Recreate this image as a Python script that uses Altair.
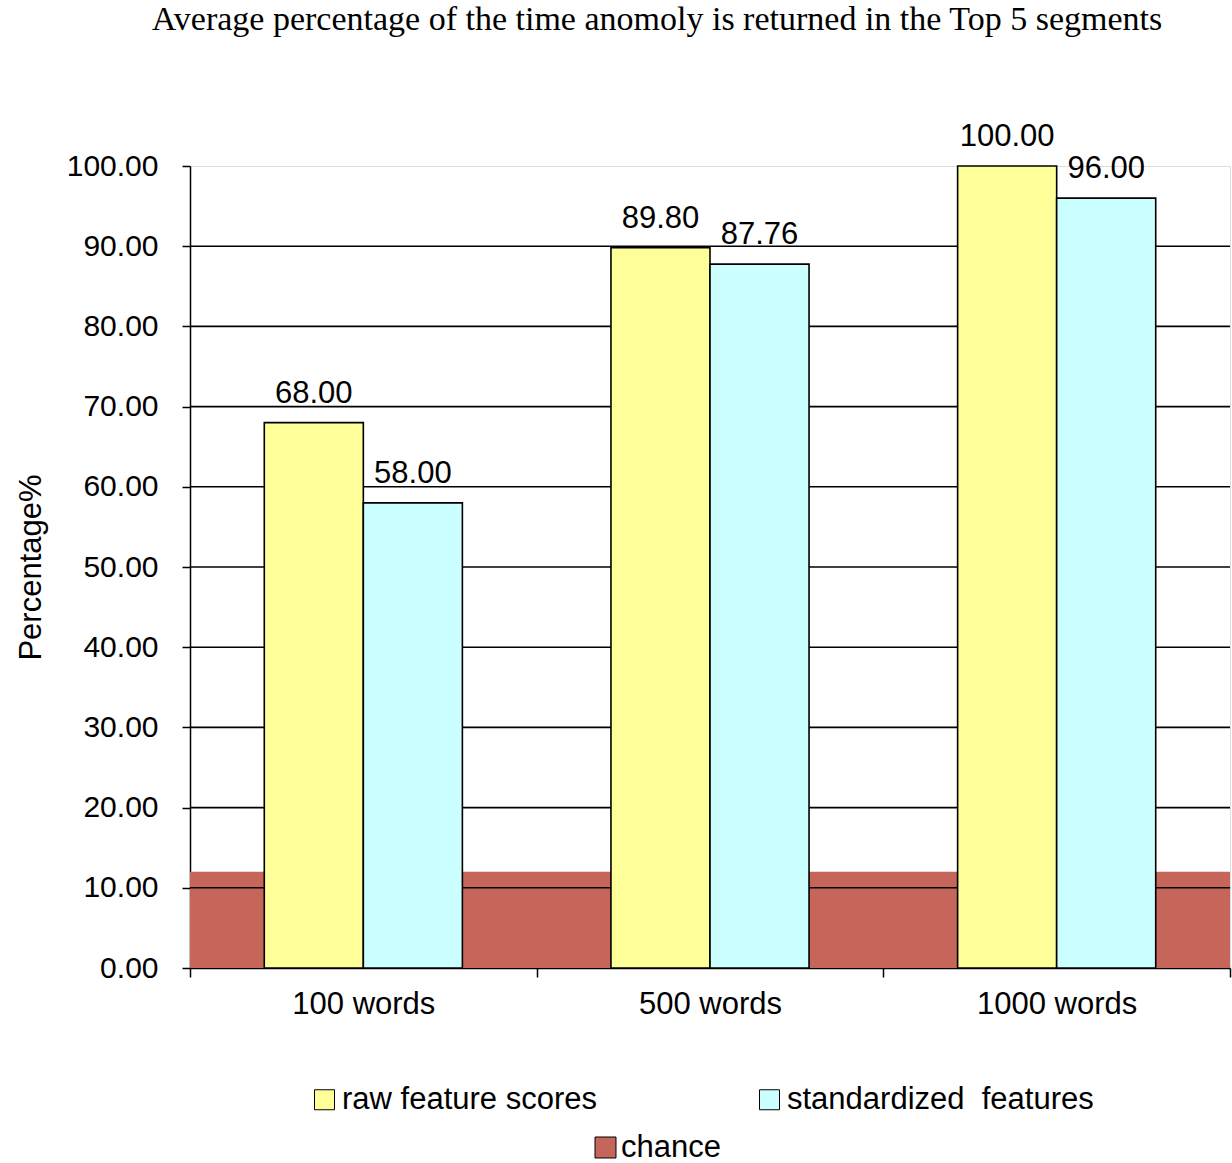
import altair as alt
import pandas as pd

# Chart data
categories = ["100 words", "500 words", "1000 words"]
series = ["raw feature scores", "standardized\u00a0 features"]
raw_scores = [68.00, 89.80, 100.00]
standardized = [58.00, 87.76, 96.00]
chance_level = [12.0]
chance_name = ["chance"]
y_ticks = [0, 10, 20, 30, 40, 50, 60, 70, 80, 90, 100]
grid_values = [10, 20, 30, 40, 50, 60, 70, 80, 90]

W, H = 1040, 802
FONT = "Liberation Sans"

bars = pd.DataFrame({
    "category": categories * 2,
    "series": [series[0]] * 3 + [series[1]] * 3,
    "value": raw_scores + standardized,
})
chance_df = pd.DataFrame({"name": chance_name, "level": chance_level})
grid_df = pd.DataFrame({"g": grid_values})

x_scale = alt.Scale(domain=categories, paddingInner=0, paddingOuter=0)
off_scale = alt.Scale(domain=series, paddingInner=0, paddingOuter=0.75)
y_scale = alt.Scale(domain=[0, 100], nice=False)

x_enc = alt.X(
    "category:N", scale=x_scale, sort=categories, title=None,
    axis=alt.Axis(
        labelAngle=0, labelFont=FONT, labelFontSize=31, labelColor="#000",
        labelPadding=12, tickBand="extent", tickSize=9, tickColor="#000",
        tickWidth=1.5, domainColor="#000", domainWidth=1.5, grid=False,
    ),
)

# Chance band across the whole plot width
chance = alt.Chart(chance_df).mark_rect(opacity=1).encode(
    x=alt.value(0), x2=alt.value(W),
    y=alt.Y("level:Q", scale=y_scale),
    y2=alt.datum(0),
    fill=alt.Fill(
        "name:N",
        scale=alt.Scale(domain=chance_name, range=["#C6665B"]),
        legend=alt.Legend(
            title=None, orient="none", legendX=400, legendY=966,
            symbolType="square", symbolSize=440, symbolStrokeColor="#000",
            symbolStrokeWidth=1, labelFont=FONT, labelFontSize=31,
            labelColor="#000", labelOffset=0, padding=0,
        ),
    ),
)

grid = alt.Chart(grid_df).mark_rule(color="#000", strokeWidth=1.6).encode(
    y=alt.Y("g:Q", scale=y_scale),
    x=alt.value(0), x2=alt.value(W),
)

bar_layer = alt.Chart(bars).mark_bar(stroke="#000", strokeWidth=1.6).encode(
    x=x_enc,
    xOffset=alt.XOffset("series:N", sort=series, scale=off_scale),
    y=alt.Y(
        "value:Q", scale=y_scale, title="Percentage%",
        axis=alt.Axis(
            values=y_ticks, format=".2f", labelFont=FONT, labelFontSize=30,
            labelColor="#000", labelPadding=24, tickSize=8, tickColor="#000",
            tickWidth=1.5, domainColor="#000", domainWidth=1.5, grid=False,
            titleFont=FONT, titleFontSize=31, titleFontWeight="normal",
            titleColor="#000", titlePadding=19,
        ),
    ),
    color=alt.Color(
        "series:N", sort=series,
        scale=alt.Scale(domain=series, range=["#FFFF99", "#CCFFFF"]),
        legend=alt.Legend(
            title=None, orient="none", legendX=119, legendY=918,
            direction="horizontal", columns=2, columnPadding=157,
            symbolType="square", symbolSize=400, symbolStrokeColor="#000",
            symbolStrokeWidth=1, labelFont=FONT, labelFontSize=31,
            labelColor="#000", labelOffset=2, padding=0, labelLimit=400,
        ),
    ),
)

labels = alt.Chart(bars).mark_text(
    baseline="alphabetic", dy=-20, font=FONT, fontSize=31, color="#000",
).encode(
    x=alt.X("category:N", scale=x_scale, sort=categories, title=None),
    xOffset=alt.XOffset("series:N", sort=series, scale=off_scale),
    y=alt.Y("value:Q", scale=y_scale),
    text=alt.Text("value:Q", format=".2f"),
)

chart = alt.layer(chance, grid, bar_layer, labels).resolve_scale(
    color="independent"
).properties(
    width=W, height=H,
    title=alt.TitleParams(
        "Average percentage of the time anomoly is returned in the Top 5 segments",
        font="Liberation Serif", fontSize=34, fontWeight="normal",
        color="#000", anchor="middle", dx=-53, offset=84, frame="group",
    ),
    autosize=alt.AutoSizeParams(type="none"),
    padding={"left": 190, "top": 166, "right": 2, "bottom": 195},
).configure_view(
    stroke="#999", strokeWidth=1.5
).configure(background="white")

chart.save("out.html", embed_options={"renderer": "svg", "actions": False})
